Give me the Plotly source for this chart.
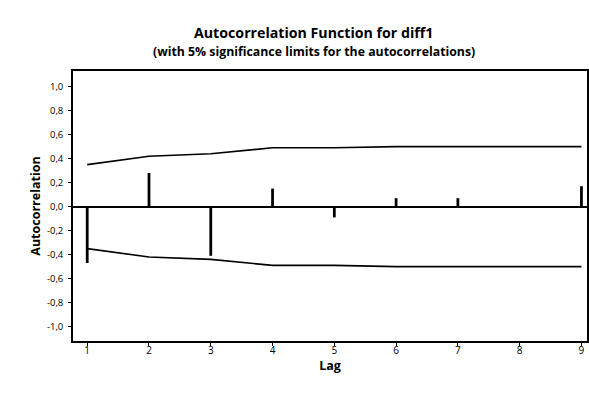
import plotly.graph_objects as go

lags = [1, 2, 3, 4, 5, 6, 7, 8, 9]
acf = [-0.47, 0.28, -0.41, 0.15, -0.09, 0.07, 0.07, -0.01, 0.17]
upper = [0.35, 0.42, 0.44, 0.49, 0.49, 0.50, 0.50, 0.50, 0.50]
lower = [-u for u in upper]
y_ticks = [-1.0, -0.8, -0.6, -0.4, -0.2, 0.0, 0.2, 0.4, 0.6, 0.8, 1.0]
y_tick_text = [f"{v:.1f}".replace(".", ",") for v in y_ticks]

FONT = "Open Sans"
W, H = 589, 405
ML, MR, MT, MB = 73, 2, 71, 64

fig = go.Figure()
fig.add_trace(go.Scatter(x=lags, y=upper, mode="lines",
                         line=dict(color="black", width=1.6), showlegend=False))
fig.add_trace(go.Scatter(x=lags, y=lower, mode="lines",
                         line=dict(color="black", width=1.6), showlegend=False))
fig.add_trace(go.Bar(x=lags, y=acf, width=0.045, marker=dict(color="black", line=dict(width=0)),
                     showlegend=False))

plot_h = H - MT - MB
plot_w = W - ML - MR


def ypix(p):
    return 1 + (MT - p) / plot_h


def xpix(p):
    return (p - ML) / plot_w


fig.update_layout(
    width=W, height=H,
    margin=dict(l=ML, r=MR, t=MT, b=MB, autoexpand=False),
    paper_bgcolor="white", plot_bgcolor="white",
    font=dict(family=FONT, color="black"),
    showlegend=False,
    annotations=[
        dict(text="<b>Autocorrelation Function for diff1</b>", x=xpix(313), y=ypix(33),
             xref="paper", yref="paper", xanchor="center", yanchor="middle", showarrow=False,
             font=dict(size=14.2, family=FONT)),
        dict(text="<b>(with 5% significance limits for the autocorrelations)</b>", x=xpix(313.5), y=ypix(51),
             xref="paper", yref="paper", xanchor="center", yanchor="middle", showarrow=False,
             font=dict(size=12.3, family=FONT)),
    ],
)

fig.update_xaxes(
    range=[0.77, 9.09], tickvals=lags, ticktext=[str(l) for l in lags],
    showgrid=False, zeroline=False, showline=True, linecolor="black", linewidth=1.6,
    mirror=True, ticks="outside", ticklen=3, tickcolor="black",
    tickfont=dict(size=10, family=FONT), automargin=False, ticklabelstandoff=-4,
    title=dict(text="<b>Lag</b>", font=dict(size=12.5, family=FONT), standoff=2),
)
fig.update_yaxes(
    range=[-1.12, 1.13], tickvals=y_ticks, ticktext=y_tick_text,
    showgrid=False, zeroline=True, zerolinecolor="black", zerolinewidth=1.6,
    showline=True, linecolor="black", linewidth=1.6, mirror=True,
    ticks="outside", ticklen=3, tickcolor="black",
    tickfont=dict(size=9.5, family=FONT), automargin=False, ticklabelstandoff=3,
    title=dict(text="<b>Autocorrelation</b>", font=dict(size=12.5, family=FONT), standoff=4),
)

fig.write_html("out.html", config={"displayModeBar": False},
               post_script="document.body.style.margin='0';")
